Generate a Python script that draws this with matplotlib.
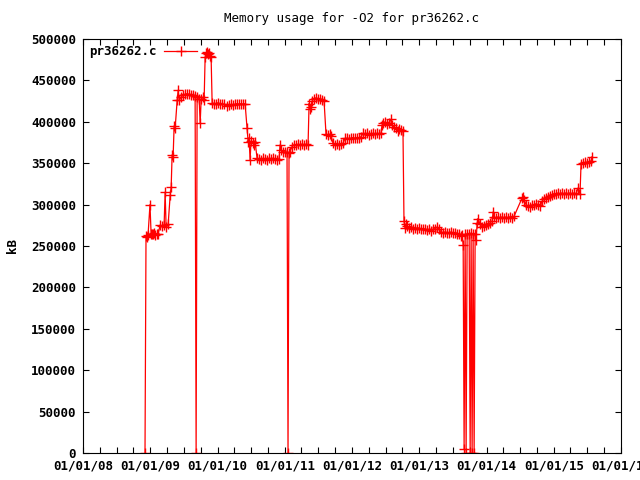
import matplotlib
matplotlib.use('Agg')
import matplotlib.pyplot as plt
import matplotlib.dates as mdates
from datetime import datetime, timedelta

# dates as fractional years, memory in kB
years = [
    2008.922, 2008.937, 2008.952, 2008.967, 2008.996, 2009.011, 2009.026, 2009.041,
    2009.056, 2009.071, 2009.100, 2009.115, 2009.145, 2009.175, 2009.204, 2009.219,
    2009.234, 2009.264, 2009.294, 2009.309, 2009.323, 2009.338, 2009.353, 2009.368,
    2009.398, 2009.413, 2009.428, 2009.457, 2009.487, 2009.517, 2009.546, 2009.576,
    2009.606, 2009.636, 2009.665, 2009.680, 2009.695, 2009.725, 2009.740, 2009.755,
    2009.784, 2009.799, 2009.814, 2009.829, 2009.844, 2009.859, 2009.874, 2009.888,
    2009.903, 2009.918, 2009.948, 2009.978, 2010.007, 2010.037, 2010.067, 2010.097,
    2010.141, 2010.171, 2010.201, 2010.230, 2010.260, 2010.290, 2010.320, 2010.349,
    2010.379, 2010.409, 2010.439, 2010.454, 2010.468, 2010.483, 2010.498, 2010.528,
    2010.543, 2010.558, 2010.587, 2010.617, 2010.647, 2010.677, 2010.706, 2010.736,
    2010.766, 2010.796, 2010.825, 2010.855, 2010.885, 2010.914, 2010.929, 2010.944,
    2010.974, 2011.004, 2011.033, 2011.048, 2011.063, 2011.078, 2011.108, 2011.138,
    2011.167, 2011.197, 2011.227, 2011.257, 2011.286, 2011.316, 2011.346, 2011.361,
    2011.375, 2011.390, 2011.405, 2011.435, 2011.465, 2011.494, 2011.524, 2011.554,
    2011.584, 2011.613, 2011.643, 2011.673, 2011.688, 2011.717, 2011.747, 2011.777,
    2011.807, 2011.836, 2011.866, 2011.896, 2011.926, 2011.955, 2011.985, 2012.015,
    2012.045, 2012.074, 2012.104, 2012.134, 2012.164, 2012.193, 2012.223, 2012.253,
    2012.283, 2012.312, 2012.342, 2012.372, 2012.401, 2012.431, 2012.446, 2012.461,
    2012.491, 2012.520, 2012.550, 2012.580, 2012.595, 2012.625, 2012.654, 2012.684,
    2012.699, 2012.729, 2012.758, 2012.773, 2012.788, 2012.803, 2012.818, 2012.848,
    2012.877, 2012.907, 2012.937, 2012.967, 2012.996, 2013.026, 2013.056, 2013.086,
    2013.115, 2013.145, 2013.175, 2013.204, 2013.234, 2013.264, 2013.294, 2013.323,
    2013.353, 2013.383, 2013.413, 2013.442, 2013.472, 2013.502, 2013.532, 2013.561,
    2013.591, 2013.621, 2013.636, 2013.651, 2013.665, 2013.680, 2013.695, 2013.710,
    2013.740, 2013.755, 2013.769, 2013.784, 2013.799, 2013.814, 2013.829, 2013.844,
    2013.859, 2013.874, 2013.903, 2013.933, 2013.963, 2013.993, 2014.022, 2014.052,
    2014.082, 2014.097, 2014.112, 2014.141, 2014.171, 2014.201, 2014.230, 2014.260,
    2014.290, 2014.320, 2014.349, 2014.379, 2014.409, 2014.528, 2014.543, 2014.558,
    2014.587, 2014.617, 2014.647, 2014.677, 2014.706, 2014.736, 2014.766, 2014.796,
    2014.825, 2014.855, 2014.885, 2014.914, 2014.944, 2014.974, 2015.004, 2015.033,
    2015.063, 2015.093, 2015.123, 2015.152, 2015.182, 2015.212, 2015.242, 2015.271,
    2015.301, 2015.331, 2015.361, 2015.390, 2015.405, 2015.435, 2015.465, 2015.494,
    2015.524, 2015.554, 2015.569,
]
memory_kb = [
    0, 262000, 261000, 263000, 300000, 264000, 265000, 264000,
    266000, 263000, 265000, 265000, 275000, 274000, 275000, 315000,
    273000, 276000, 311000, 321000, 360000, 358000, 395000, 392000,
    426000, 438000, 426000, 430000, 432000, 433000, 434000, 433000,
    432000, 432000, 431000, 0, 430000, 428000, 398000, 427000,
    430000, 426000, 478000, 483000, 484000, 482000, 483000, 480000,
    478000, 423000, 422000, 422000, 423000, 422000, 421000, 421000,
    419000, 420000, 421000, 420000, 421000, 422000, 421000, 422000,
    421000, 422000, 392000, 376000, 380000, 354000, 377000, 375000,
    372000, 376000, 356000, 355000, 354000, 356000, 355000, 354000,
    356000, 355000, 356000, 355000, 354000, 355000, 372000, 366000,
    363000, 364000, 363000, 0, 362000, 364000, 370000, 372000,
    372000, 373000, 372000, 373000, 372000, 373000, 372000, 422000,
    416000, 418000, 425000, 428000, 429000, 428000, 427000, 426000,
    425000, 385000, 384000, 385000, 383000, 374000, 372000, 373000,
    372000, 373000, 374000, 380000, 380000, 379000, 380000, 381000,
    380000, 381000, 380000, 382000, 386000, 385000, 386000, 384000,
    385000, 386000, 385000, 386000, 385000, 386000, 396000, 398000,
    400000, 397000, 399000, 403000, 396000, 394000, 392000, 389000,
    391000, 390000, 389000, 280000, 272000, 276000, 274000, 272000,
    273000, 271000, 272000, 271000, 272000, 270000, 271000, 270000,
    269000, 270000, 268000, 270000, 271000, 273000, 270000, 267000,
    266000, 267000, 266000, 266000, 267000, 266000, 266000, 265000,
    264000, 262000, 263000, 251000, 5000, 264000, 0, 265000,
    265000, 0, 266000, 0, 265000, 0, 264000, 257000,
    278000, 283000, 276000, 273000, 274000, 275000, 277000, 278000,
    280000, 291000, 285000, 284000, 285000, 284000, 285000, 284000,
    285000, 284000, 285000, 284000, 286000, 308000, 309000, 306000,
    300000, 298000, 297000, 299000, 300000, 301000, 300000, 298000,
    304000, 307000, 308000, 309000, 310000, 312000, 313000, 313000,
    314000, 313000, 314000, 313000, 314000, 313000, 314000, 313000,
    314000, 313000, 320000, 313000, 349000, 350000, 351000, 350000,
    351000, 353000, 357000,
]
series_name = "pr36262.c"
title = "Memory usage for -O2 for pr36262.c"


def to_date(y):
    start = datetime(int(y), 1, 1)
    return start + timedelta(days=(y - int(y)) * 365.25)


dates = [to_date(y) for y in years]

font = ['DejaVu Sans Mono']
plt.rcParams['font.family'] = font

fig = plt.figure(figsize=(6.4, 4.8), dpi=100)
ax = fig.add_axes([83 / 640, 27 / 480, 538 / 640, 414 / 480])

ax.plot(dates, memory_kb, color='#ff0000', lw=0.9, marker='+',
        markersize=7, markeredgewidth=1.0, label=series_name)

ax.set_xlim(datetime(2008, 1, 1), datetime(2016, 1, 1))
ax.set_ylim(0, 500000)
ax.set_yticks(range(0, 500001, 50000))
ax.xaxis.set_major_locator(mdates.YearLocator())
ax.xaxis.set_major_formatter(mdates.DateFormatter('%m/%d/%y'))
ax.xaxis.set_minor_locator(mdates.MonthLocator(bymonth=[4, 7, 10]))

ax.tick_params(which='both', direction='in', top=True, right=True,
               length=4, width=0.8, labelsize=9, pad=5)
for lab in ax.get_xticklabels() + ax.get_yticklabels():
    lab.set_fontweight('bold')
for sp in ax.spines.values():
    sp.set_linewidth(0.8)

ax.set_ylabel('kB', fontsize=9, fontweight='bold', labelpad=9)
ax.set_title(title, fontsize=9, pad=12)

leg = ax.legend(loc='upper left', frameon=False, markerfirst=False,
                handlelength=2.6, handletextpad=0.6, numpoints=1,
                borderaxespad=0.1,
                prop={'family': font, 'weight': 'bold', 'size': 9})

fig.savefig('out.png', dpi=100)
plt.close(fig)
